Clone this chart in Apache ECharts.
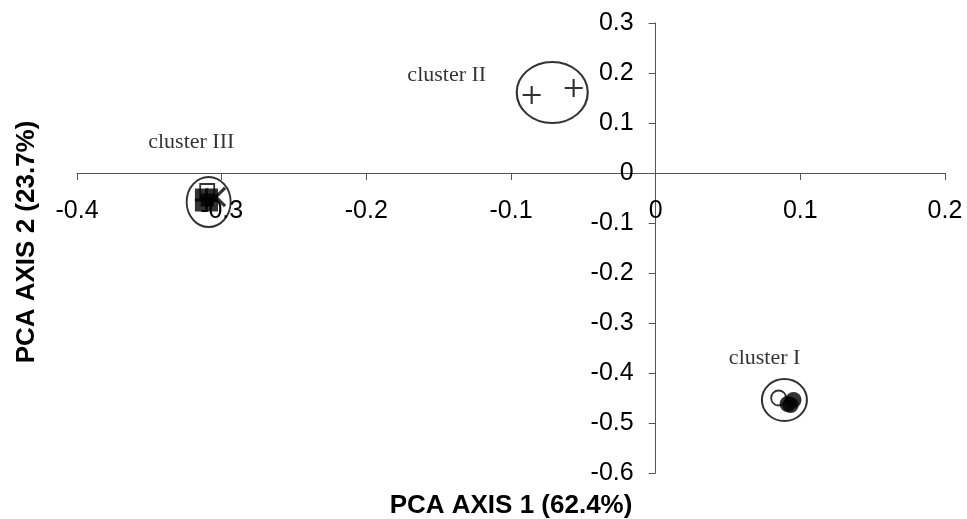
<!DOCTYPE html>
<html>
<head>
<meta charset="utf-8">
<script src="https://cdn.jsdelivr.net/npm/echarts@6/dist/echarts.min.js"></script>
<style>
  html, body { margin: 0; padding: 0; background: #fff; }
  #main { width: 967px; height: 519px; }
</style>
</head>
<body>
<div id="main"></div>
<script>
// PCA scores
var clusterIFilled = [[0.0912, -0.462], [0.0953, -0.454], [0.0933, -0.464]];
var clusterIOpen = [[0.085, -0.450]];
var clusterIIPlus = [[-0.0857, 0.156], [-0.0567, 0.170]];
var clusterIIIFilled = [[-0.314, -0.044], [-0.307, -0.044], [-0.314, -0.064], [-0.307, -0.064], [-0.310, -0.054]];
var clusterIIIOpen = [[-0.310, -0.036]];
var clusterIIICross = [[-0.304, -0.048]];
// ring centres and cluster names
var clusterRings = [[0.089, -0.454], [-0.0715, 0.161], [-0.309, -0.058]];
var clusterLabels = [[0.0753, -0.37, 'cluster I'], [-0.1444, 0.196, 'cluster II'], [-0.321, 0.062, 'cluster III']];

var xMin = -0.4, xMax = 0.2, yMin = -0.6, yMax = 0.3;
var plusPath = 'path://M4.4,0H5.6V4.4H10V5.6H5.6V10H4.4V5.6H0V4.4H4.4Z';
var ringSizes = [[45, 42], [71, 61], [44, 50]];

var gridBox = { left: 77, right: 22, top: 23, bottom: 46 };
var plotW = 967 - gridBox.left - gridBox.right;
var plotH = 519 - gridBox.top - gridBox.bottom;
// shift the axes so they cross at (0,0), labels follow the lines
var xOffset = -plotH * (0 - yMin) / (yMax - yMin);
var yOffset = -plotW * (0 - xMin) / (xMax - xMin);

var myChart = echarts.init(document.getElementById('main'));
var axisFont = { color: '#000', fontSize: 25, fontFamily: 'Liberation Sans, Arial, sans-serif' };

var option = {
  animation: false,
  backgroundColor: '#fff',
  grid: Object.assign({ containLabel: false }, gridBox),
  xAxis: {
    type: 'value', min: xMin, max: xMax, interval: 0.1,
    position: 'bottom', offset: xOffset,
    axisLine: { onZero: false, lineStyle: { color: '#555', width: 1 } },
    axisTick: { show: true, length: 7, lineStyle: { color: '#555' } },
    axisLabel: Object.assign({ margin: 26, showMinLabel: true, showMaxLabel: true }, axisFont),
    splitLine: { show: false }
  },
  yAxis: {
    type: 'value', min: yMin, max: yMax, interval: 0.1,
    position: 'left', offset: yOffset,
    axisLine: { onZero: false, lineStyle: { color: '#555', width: 1 } },
    axisTick: { show: true, length: 7, lineStyle: { color: '#555' } },
    axisLabel: Object.assign({ margin: 22, showMinLabel: true, showMaxLabel: true }, axisFont),
    splitLine: { show: false }
  },
  graphic: [
    {
      type: 'text', x: 511, y: 506,
      style: { text: 'PCA AXIS 1 (62.4%)', fill: '#000', font: 'bold 26px Liberation Sans, Arial, sans-serif', align: 'center', verticalAlign: 'middle' }
    },
    {
      type: 'text', x: 27, y: 242, rotation: Math.PI / 2,
      style: { text: 'PCA AXIS 2 (23.7%)', fill: '#000', font: 'bold 26px Liberation Sans, Arial, sans-serif', align: 'center', verticalAlign: 'middle' }
    }
  ],
  series: [
    {
      type: 'scatter', data: clusterRings.map(function (p, i) {
        return { value: p, symbolSize: ringSizes[i] };
      }),
      symbol: 'circle',
      itemStyle: { color: 'rgba(0,0,0,0)', borderColor: '#000', borderWidth: 2 },
      silent: true, z: 1
    },
    {
      type: 'scatter', data: clusterIOpen, symbol: 'circle', symbolSize: 15,
      itemStyle: { color: '#fff', borderColor: '#000', borderWidth: 1.8 }, z: 2
    },
    {
      type: 'scatter', data: clusterIFilled, symbol: 'circle', symbolSize: 16,
      itemStyle: { color: '#000' }, z: 3
    },
    {
      type: 'scatter', data: clusterIIPlus, symbol: plusPath, symbolSize: 18,
      itemStyle: { color: '#000' }, z: 3
    },
    {
      type: 'scatter', data: clusterIIICross, symbol: plusPath, symbolSize: 26, symbolRotate: 45,
      itemStyle: { color: '#000' }, z: 2
    },
    {
      type: 'scatter', data: clusterIIIOpen, symbol: 'rect', symbolSize: 14,
      itemStyle: { color: '#fff', borderColor: '#000', borderWidth: 1.8 }, z: 3
    },
    {
      type: 'scatter', data: clusterIIIFilled, symbol: 'rect', symbolSize: 13,
      itemStyle: { color: '#000' }, z: 4
    },
    {
      type: 'scatter', data: clusterLabels, symbolSize: 0,
      label: {
        show: true, position: 'inside',
        formatter: function (p) { return p.data[2]; },
        color: '#000', fontSize: 22, fontFamily: 'Liberation Serif, Times New Roman, serif'
      },
      silent: true, z: 5
    }
  ]
};
myChart.setOption(option);
</script>
</body>
</html>
